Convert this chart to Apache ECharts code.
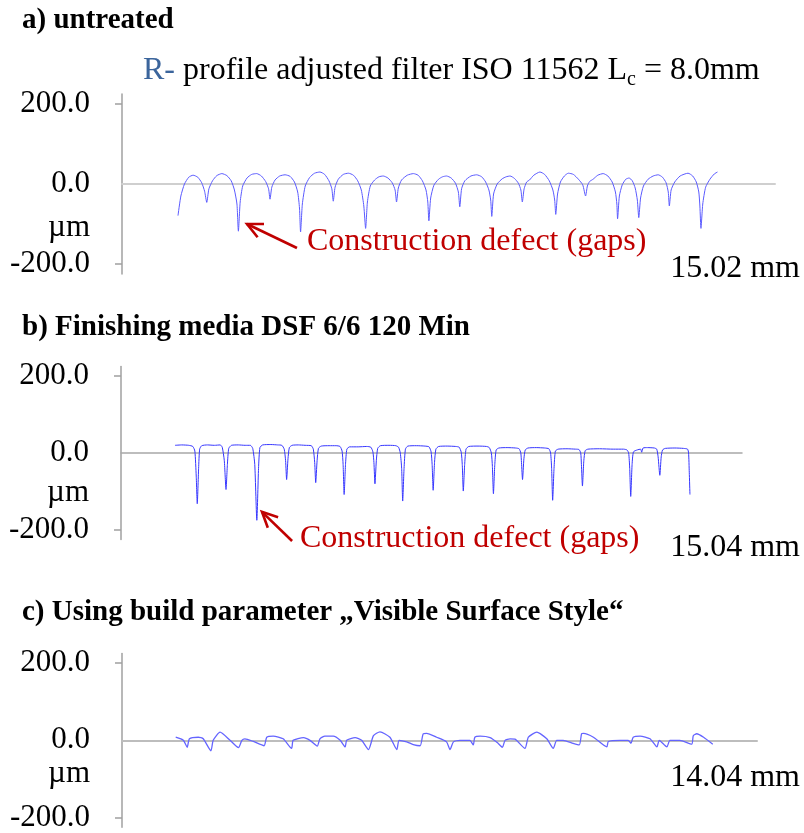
<!DOCTYPE html>
<html><head><meta charset="utf-8">
<script src="https://cdn.jsdelivr.net/npm/echarts@6/dist/echarts.min.js"></script>
<style>html,body{margin:0;padding:0;background:#fff}#c{width:804px;height:833px}</style>
</head><body><div id="c"></div>
<script>
// ---- data (x in mm, y in µm) ----
const profileA = [
[0.00,-79],[0.08,-30],[0.18,0],[0.30,17],[0.42,22],[0.55,17],[0.66,3],[0.74,-18],[0.80,-46],
[0.86,-12],[0.96,8],[1.08,21],[1.22,26],[1.36,21],[1.48,8],[1.57,-15],[1.64,-50],[1.68,-118],
[1.73,-45],[1.80,-5],[1.92,15],[2.05,24],[2.19,26],[2.32,20],[2.44,6],[2.52,-12],[2.56,-38],
[2.61,-8],[2.70,10],[2.83,20],[2.98,23],[3.12,19],[3.24,5],[3.33,-20],[3.38,-60],[3.41,-120],
[3.46,-50],[3.54,-5],[3.66,16],[3.80,27],[3.95,30],[4.08,24],[4.20,8],[4.28,-12],[4.32,-43],
[4.37,-8],[4.46,12],[4.60,24],[4.74,27],[4.88,22],[5.00,8],[5.10,-15],[5.17,-55],[5.22,-111],
[5.27,-45],[5.35,-5],[5.47,10],[5.59,18],[5.71,20],[5.84,15],[5.96,3],[6.04,-15],[6.08,-45],
[6.13,-10],[6.22,10],[6.38,22],[6.55,26],[6.68,22],[6.80,8],[6.90,-15],[6.95,-45],[6.98,-92],
[7.03,-35],[7.12,-3],[7.25,12],[7.36,18],[7.47,20],[7.60,15],[7.72,2],[7.80,-20],[7.84,-57],
[7.89,-12],[7.98,8],[8.15,20],[8.31,23],[8.45,18],[8.56,5],[8.65,-15],[8.70,-40],[8.73,-81],
[8.78,-25],[8.88,0],[9.02,13],[9.13,18],[9.24,20],[9.36,14],[9.47,2],[9.54,-15],[9.58,-45],
[9.63,-12],[9.70,5],[9.78,10],[9.90,22],[10.07,30],[10.20,24],[10.33,8],[10.43,-15],[10.48,-40],[10.51,-76],
[10.56,-25],[10.64,5],[10.75,20],[10.86,27],[11.00,24],[11.14,12],[11.26,-2],[11.34,-30],
[11.39,-5],[11.45,6],[11.55,12],[11.68,22],[11.83,26],[11.96,20],[12.08,5],[12.17,-20],[12.21,-50],[12.23,-87],
[12.28,-30],[12.36,-2],[12.46,12],[12.55,15],[12.64,8],[12.72,-10],[12.78,-40],[12.82,-84],
[12.87,-35],[12.95,-5],[13.08,12],[13.22,20],[13.36,23],[13.48,17],[13.58,3],[13.64,-20],[13.67,-55],
[13.72,-15],[13.82,5],[13.97,20],[14.19,27],[14.32,20],[14.42,5],[14.49,-20],[14.52,-55],[14.55,-111],
[14.60,-50],[14.68,-8],[14.80,12],[14.92,25],[15.01,30]
];
const profileB = [
[0.00,20],[0.20,21],[0.40,20],[0.52,17],[0.58,5],[0.62,-60],[0.65,-132],[0.69,-40],[0.72,10],[0.78,19],
[0.95,21],[1.15,20],[1.32,21],[1.38,15],[1.44,-20],[1.49,-95],[1.53,-30],[1.57,12],[1.65,20],
[1.85,21],[2.05,20],[2.20,20],[2.27,12],[2.33,-30],[2.39,-175],[2.44,-40],[2.48,14],[2.56,21],
[2.80,22],[3.00,21],[3.12,20],[3.19,10],[3.23,-20],[3.26,-69],[3.30,-15],[3.34,14],[3.42,20],
[3.60,21],[3.80,20],[3.98,19],[4.04,10],[4.08,-25],[4.11,-77],[4.15,-20],[4.19,12],[4.27,18],
[4.50,19],[4.70,19],[4.82,17],[4.88,5],[4.91,-30],[4.94,-108],[4.98,-30],[5.02,10],[5.10,16],
[5.35,16],[5.60,17],[5.72,15],[5.78,3],[5.81,-25],[5.84,-80],[5.88,-20],[5.92,12],[6.00,19],
[6.25,20],[6.45,19],[6.53,15],[6.58,0],[6.62,-40],[6.65,-125],[6.69,-40],[6.73,10],[6.80,18],
[7.05,19],[7.30,18],[7.42,16],[7.48,3],[7.51,-30],[7.54,-97],[7.58,-25],[7.62,10],[7.70,17],
[7.95,18],[8.20,17],[8.30,15],[8.36,2],[8.39,-30],[8.42,-99],[8.46,-30],[8.50,10],[8.58,17],
[8.85,18],[9.10,17],[9.18,14],[9.24,0],[9.27,-35],[9.30,-106],[9.34,-30],[9.38,8],[9.46,13],
[9.70,14],[9.95,13],[10.05,11],[10.10,0],[10.12,-25],[10.15,-69],[10.19,-15],[10.23,8],[10.31,13],
[10.55,14],[10.80,13],[10.92,11],[10.97,0],[11.00,-40],[11.03,-123],[11.07,-40],[11.11,5],[11.19,10],
[11.45,11],[11.70,10],[11.80,9],[11.85,0],[11.87,-30],[11.90,-86],[11.94,-20],[11.98,6],[12.06,10],
[12.40,11],[12.80,10],[13.10,10],[13.20,8],[13.25,0],[13.28,-40],[13.31,-113],[13.35,-30],[13.39,3],
[13.50,8],[13.60,10],[13.63,2],[13.67,13],[13.80,14],[14.00,13],[14.07,10],[14.11,-10],[14.16,-58],
[14.20,-10],[14.24,8],[14.32,12],[14.60,13],[14.85,12],[14.97,10],[15.00,0],[15.02,-50],[15.04,-108]
];
const profileC = [
[0.00,8],[0.20,0],[0.30,-18],[0.36,4],[0.59,8],[0.72,4],[0.92,-27],[0.98,0],[1.16,21],[1.42,0],
[1.64,-19],[1.73,0],[1.81,4],[2.03,-3],[2.31,-14],[2.38,8],[2.55,11],[2.81,4],[3.03,-21],[3.07,0],
[3.34,7],[3.51,0],[3.70,-15],[3.77,4],[3.90,11],[4.12,11],[4.30,0],[4.43,-17],[4.47,0],[4.69,7],
[4.86,0],[5.04,-24],[5.17,12],[5.34,22],[5.60,8],[5.78,-24],[5.84,0],[6.04,-4],[6.21,-11],[6.39,-14],
[6.47,17],[6.56,18],[6.82,8],[7.08,-4],[7.17,-24],[7.26,-4],[7.43,0],[7.69,0],[7.78,-12],[7.82,8],
[7.96,11],[8.22,7],[8.43,-8],[8.54,-18],[8.61,0],[8.74,4],[8.87,3],[9.13,-21],[9.22,8],[9.44,21],
[9.70,4],[9.87,-21],[9.96,0],[10.13,0],[10.39,-8],[10.55,-12],[10.61,17],[10.66,18],[10.92,8],[11.27,-17],
[11.31,-3],[11.62,0],[11.83,0],[11.90,-8],[11.96,8],[12.14,11],[12.40,4],[12.58,-17],[12.64,0],[12.84,-17],
[12.92,0],[13.18,0],[13.49,-10],[13.53,12],[13.62,17],[13.80,8],[14.04,-10]
];
const yTickValues = [-200, 0, 200];
const yTickMarks = [-200, 200];
const unitPositions = [-110, -104, -88];   // where "µm" sits on each axis
const unitLabel = 'µm';
const panelTitles = ['a) untreated', 'b) Finishing media DSF 6/6 120 Min', 'c) Using build parameter \u201EVisible Surface Style\u201C'];
const panelLengths = ['15.02 mm', '15.04 mm', '14.04 mm'];
const defectLabel = 'Construction defect (gaps)';
const arrowA = [[3.31, -160], [1.92, -100]];   // tail, tip (data coords)
const arrowB = [[3.42, -229], [2.54, -153]];

// ---- layout / style ----
const FONT = '"Liberation Serif", "Times New Roman", serif';
const grids = [
  {left: 122, right: 29, top: 94, height: 180},
  {left: 121, right: 62, top: 366.5, height: 173},
  {left: 122, right: 47, top: 653.5, height: 179.5}
];
const xRanges = [[-1.558, 16.61], [-1.577, 16.56], [-1.404, 15.196]];
const zeroLineStyles = [{color: '#cfcfcf', width: 2}, {color: '#a8a8a8', width: 1.5}, {color: '#bdbdbd', width: 2}];
const lineColors = ['#5a5aff', '#3535ff', '#6464ff'];
const profiles = [profileA, profileB, profileC];
const headingTops = [6, 313, 598];

const chart = echarts.init(document.getElementById('c'), null, {renderer: 'canvas'});

const headingStyle = {fontFamily: FONT, fontWeight: 'bold', fontSize: 29, color: '#000'};
const option = {
  animation: false,
  title: [
    {text: panelTitles[0], left: 22, top: headingTops[0], padding: 0, textStyle: headingStyle},
    {
      text: '{b|R-} profile adjusted filter ISO 11562 L{s|c} = 8.0mm',
      left: 143, top: 53, padding: 0,
      textStyle: {
        fontFamily: FONT, fontWeight: 'normal', fontSize: 32, color: '#000', lineHeight: 36,
        rich: {
          b: {fontFamily: FONT, fontSize: 32, color: '#3b659c', lineHeight: 36},
          s: {fontFamily: FONT, fontSize: 20, color: '#000', lineHeight: 36, padding: [17, 0, 0, 0]}
        }
      }
    },
    {text: panelTitles[1], left: 22, top: headingTops[1], padding: 0, textStyle: headingStyle},
    {text: panelTitles[2], left: 22, top: headingTops[2], padding: 0, textStyle: headingStyle}
  ],
  grid: grids.map(g => Object.assign({containLabel: false}, g)),
  xAxis: grids.map((g, i) => ({
    type: 'value', gridIndex: i, min: xRanges[i][0], max: xRanges[i][1],
    axisLine: {show: true, onZero: true, lineStyle: zeroLineStyles[i]},
    axisTick: {show: false}, axisLabel: {show: false}, splitLine: {show: false}
  })),
  yAxis: grids.map((g, i) => ({
    type: 'value', gridIndex: i, min: -225, max: 225,
    axisLine: {show: true, onZero: false, lineStyle: {color: '#a0a0a0', width: 1.5}},
    axisTick: {show: true, customValues: yTickMarks, length: 7, lineStyle: {color: '#a0a0a0', width: 1.5}},
    axisLabel: {
      customValues: yTickValues.concat([unitPositions[i]]),
      formatter: v => (v === unitPositions[i] ? unitLabel : v.toFixed(1)),
      fontFamily: FONT, fontSize: 31, color: '#000', margin: 32
    },
    splitLine: {show: false}
  })),
  series: profiles.map((d, i) => ({
    type: 'line', xAxisIndex: i, yAxisIndex: i, data: d,
    showSymbol: false, symbol: 'none', smooth: 0.2, z: 3,
    lineStyle: {color: lineColors[i], width: i === 2 ? 1.3 : 1}
  }))
};
chart.setOption(option);

function arrowGraphic(gridIndex, arrow) {
  const p0 = chart.convertToPixel({gridIndex}, arrow[0]);
  const p1 = chart.convertToPixel({gridIndex}, arrow[1]);
  const ang = Math.atan2(p0[1] - p1[1], p0[0] - p1[0]);
  const L = 17, spread = 0.45;
  const h1 = [p1[0] + L * Math.cos(ang + spread), p1[1] + L * Math.sin(ang + spread)];
  const h2 = [p1[0] + L * Math.cos(ang - spread), p1[1] + L * Math.sin(ang - spread)];
  const st = {stroke: '#c00000', lineWidth: 2.6, fill: null};
  return [
    {type: 'polyline', shape: {points: [p0, p1]}, style: st, z: 10},
    {type: 'polyline', shape: {points: [h1, p1, h2]}, style: st, z: 10}
  ];
}

const textStyleBase = {font: '32px ' + FONT, fill: '#000'};
chart.setOption({
  graphic: [].concat(
    arrowGraphic(0, arrowA),
    arrowGraphic(1, arrowB),
    [
      {type: 'text', left: 307, top: 226, style: Object.assign({}, textStyleBase, {text: defectLabel, fill: '#c00000'})},
      {type: 'text', left: 300, top: 523, style: Object.assign({}, textStyleBase, {text: defectLabel, fill: '#c00000'})},
      {type: 'text', right: 4, top: 253, style: Object.assign({}, textStyleBase, {text: panelLengths[0]})},
      {type: 'text', right: 4, top: 532, style: Object.assign({}, textStyleBase, {text: panelLengths[1]})},
      {type: 'text', right: 4, top: 762, style: Object.assign({}, textStyleBase, {text: panelLengths[2]})}
    ]
  )
});
</script>
</body></html>
